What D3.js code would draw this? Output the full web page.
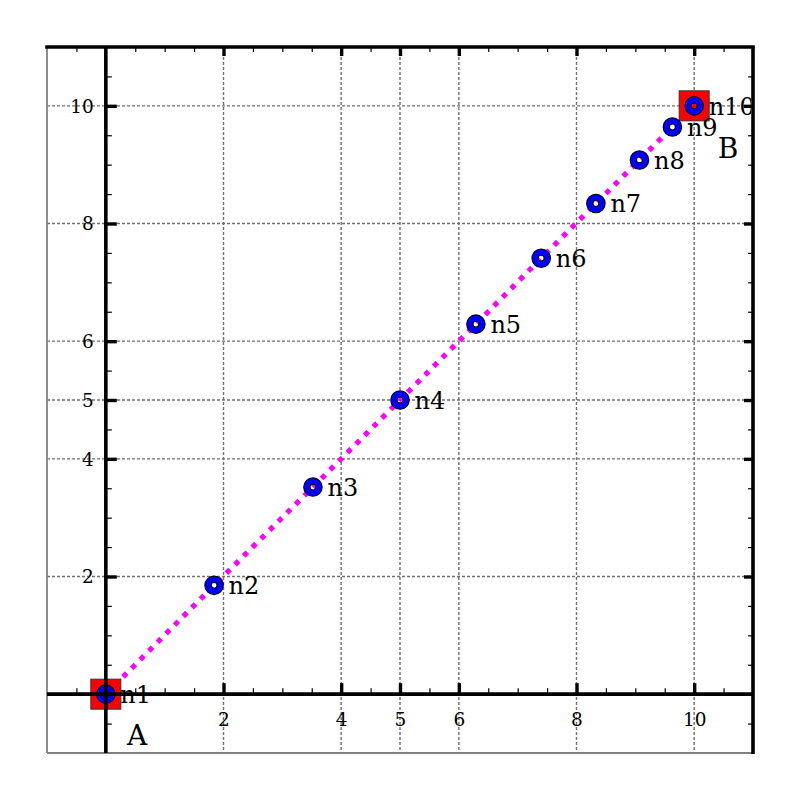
<!DOCTYPE html>
<html><head><meta charset="utf-8">
<script src="https://cdn.jsdelivr.net/npm/d3@7"></script>
<style>body{margin:0;background:#fff} svg{display:block}</style>
</head><body><svg id="c" width="800" height="800"></svg>
<script>
// ---- data ----
const nodeNames = ["n1","n2","n3","n4","n5","n6","n7","n8","n9","n10"];
const nodeX = [0, 1.84, 3.52, 5.0, 6.29, 7.40, 8.33, 9.07, 9.63, 10];
const nodeY = [0, 1.85, 3.52, 5.0, 6.29, 7.41, 8.34, 9.08, 9.64, 10];
const endpointIdx = [0, 9];
const endpointNames = ["A", "B"];
const endpointLabelX = [0.36, 10.4];
const endpointLabelY = [-0.87, 9.12];
const majorTicks = [2, 4, 5, 6, 8, 10];
const tickLabels = ["2", "4", "5", "6", "8", "10"];
const minorTicks = [-0.5, 0.5, 1, 1.5, 2.5, 3, 3.5, 4.5, 5.5, 6.5, 7, 7.5, 8.5, 9, 9.5, 10.5];
const xDomain = [-1, 11];
const yDomain = [-1, 11];

// ---- layout ----
const L = 47, R = 753, T = 47, B = 753;
const svg = d3.select("#c");
const x = d3.scaleLinear().domain(xDomain).range([L, R]);
const y = d3.scaleLinear().domain(yDomain).range([B, T]);
const font = "DejaVu Serif, serif";

svg.append("defs").append("clipPath").attr("id","pa")
  .append("rect").attr("x",L).attr("y",T).attr("width",R-L-2).attr("height",B-T);

// grid
const grid = svg.append("g").attr("stroke","#707070").attr("stroke-width",1.4).attr("stroke-dasharray","3,2");
grid.selectAll("line.v").data(majorTicks).join("line").attr("class","v")
  .attr("x1",d=>x(d)).attr("x2",d=>x(d)).attr("y1",T).attr("y2",B);
grid.selectAll("line.h").data(majorTicks).join("line").attr("class","h")
  .attr("y1",d=>y(d)).attr("y2",d=>y(d)).attr("x1",L).attr("x2",R);

// left / bottom gray spines
svg.append("line").attr("x1",L).attr("x2",L).attr("y1",T).attr("y2",B).attr("stroke","#808080").attr("stroke-width",1.8);
svg.append("line").attr("x1",L).attr("x2",R).attr("y1",B).attr("y2",B).attr("stroke","#808080").attr("stroke-width",1.8);

const pts = nodeNames.map((n,i)=>({n, x:nodeX[i], y:nodeY[i]}));

// dotted line
svg.append("path").datum(pts)
  .attr("d", d3.line().x(d=>x(d.x)).y(d=>y(d.y)))
  .attr("fill","none").attr("stroke","#ff00ff").attr("stroke-width",5.2)
  .attr("stroke-dasharray","5.2,7");

// red squares
svg.selectAll("rect.sq").data(endpointIdx.map(i=>pts[i])).join("rect").attr("class","sq")
  .attr("x",d=>x(d.x)-15).attr("y",d=>y(d.y)-15).attr("width",30).attr("height",30)
  .attr("fill","#ff0000").attr("stroke","#333").attr("stroke-width",1);

// ring markers
svg.selectAll("circle.o").data(pts).join("circle").attr("class","o")
  .attr("cx",d=>x(d.x)).attr("cy",d=>y(d.y)).attr("r",6.1)
  .attr("fill","none").attr("stroke","#000").attr("stroke-width",7.4);
svg.selectAll("circle.i").data(pts).join("circle").attr("class","i")
  .attr("cx",d=>x(d.x)).attr("cy",d=>y(d.y)).attr("r",6.1)
  .attr("fill","none").attr("stroke","#0000ff").attr("stroke-width",5.4);

// node labels
const lab = svg.append("g").attr("clip-path","url(#pa)");
lab.selectAll("text.n").data(pts).join("text").attr("class","n")
  .attr("x",d=>x(d.x)+14.5).attr("y",d=>y(d.y)+9)
  .attr("font-family",font).attr("font-size",24).attr("fill","#000").text(d=>d.n);
lab.selectAll("text.ab").data(endpointNames).join("text").attr("class","ab")
  .attr("x",(d,i)=>x(endpointLabelX[i])).attr("y",(d,i)=>y(endpointLabelY[i]))
  .attr("font-family",font).attr("font-size",28).attr("fill","#000").text(d=>d);

// zero axes lines
svg.append("line").attr("x1",L).attr("x2",R).attr("y1",y(0)).attr("y2",y(0)).attr("stroke","#000").attr("stroke-width",3.6);
svg.append("line").attr("x1",x(0)).attr("x2",x(0)).attr("y1",T).attr("y2",B).attr("stroke","#000").attr("stroke-width",3.6);
// top / right spines
svg.append("line").attr("x1",L-1.8).attr("x2",R+1.8).attr("y1",T).attr("y2",T).attr("stroke","#000").attr("stroke-width",3.6);
svg.append("line").attr("x1",R).attr("x2",R).attr("y1",T).attr("y2",B+1).attr("stroke","#000").attr("stroke-width",3.6);

// ticks via d3 axes
function tickAxis(gen, vals, size, w, tr){
  const g = svg.append("g").attr("transform",tr)
    .call(gen.tickValues(vals).tickSize(size).tickSizeOuter(0).tickFormat(""));
  g.select(".domain").remove();
  g.selectAll(".tick line").attr("stroke","#000").attr("stroke-width",w);
  return g;
}
// top spine (down)
tickAxis(d3.axisBottom(x), majorTicks, 9, 3.4, `translate(0,${T})`);
tickAxis(d3.axisBottom(x), minorTicks, 5, 1.2, `translate(0,${T})`);
// right spine (left)
tickAxis(d3.axisLeft(y), majorTicks, 9, 3.4, `translate(${R},0)`);
tickAxis(d3.axisLeft(y), minorTicks, 5, 1.2, `translate(${R},0)`);
// x zero axis (up)
tickAxis(d3.axisTop(x), majorTicks, 11, 3.4, `translate(0,${y(0)})`);
tickAxis(d3.axisTop(x), minorTicks, 6, 1.2, `translate(0,${y(0)})`);
// y zero axis (right)
tickAxis(d3.axisRight(y), majorTicks, 11, 3.4, `translate(${x(0)},0)`);
tickAxis(d3.axisRight(y), minorTicks, 6, 1.2, `translate(${x(0)},0)`);

// tick labels via axes
const xl = svg.append("g").attr("transform",`translate(0,${y(0)})`)
  .call(d3.axisBottom(x).tickValues(majorTicks).tickSize(0).tickPadding(0).tickFormat((d,i)=>tickLabels[i]));
xl.select(".domain").remove();
xl.selectAll("text").attr("y",25).attr("dy","0.35em").attr("font-family",font).attr("font-size",18.5).attr("fill","#000");
const yl = svg.append("g").attr("transform",`translate(${x(0)},0)`)
  .call(d3.axisLeft(y).tickValues(majorTicks).tickSize(0).tickPadding(0).tickFormat((d,i)=>tickLabels[i]));
yl.select(".domain").remove();
yl.selectAll("text").attr("x",-12).attr("dy","0.35em").attr("font-family",font).attr("font-size",18.5).attr("fill","#000");
</script></body></html>
